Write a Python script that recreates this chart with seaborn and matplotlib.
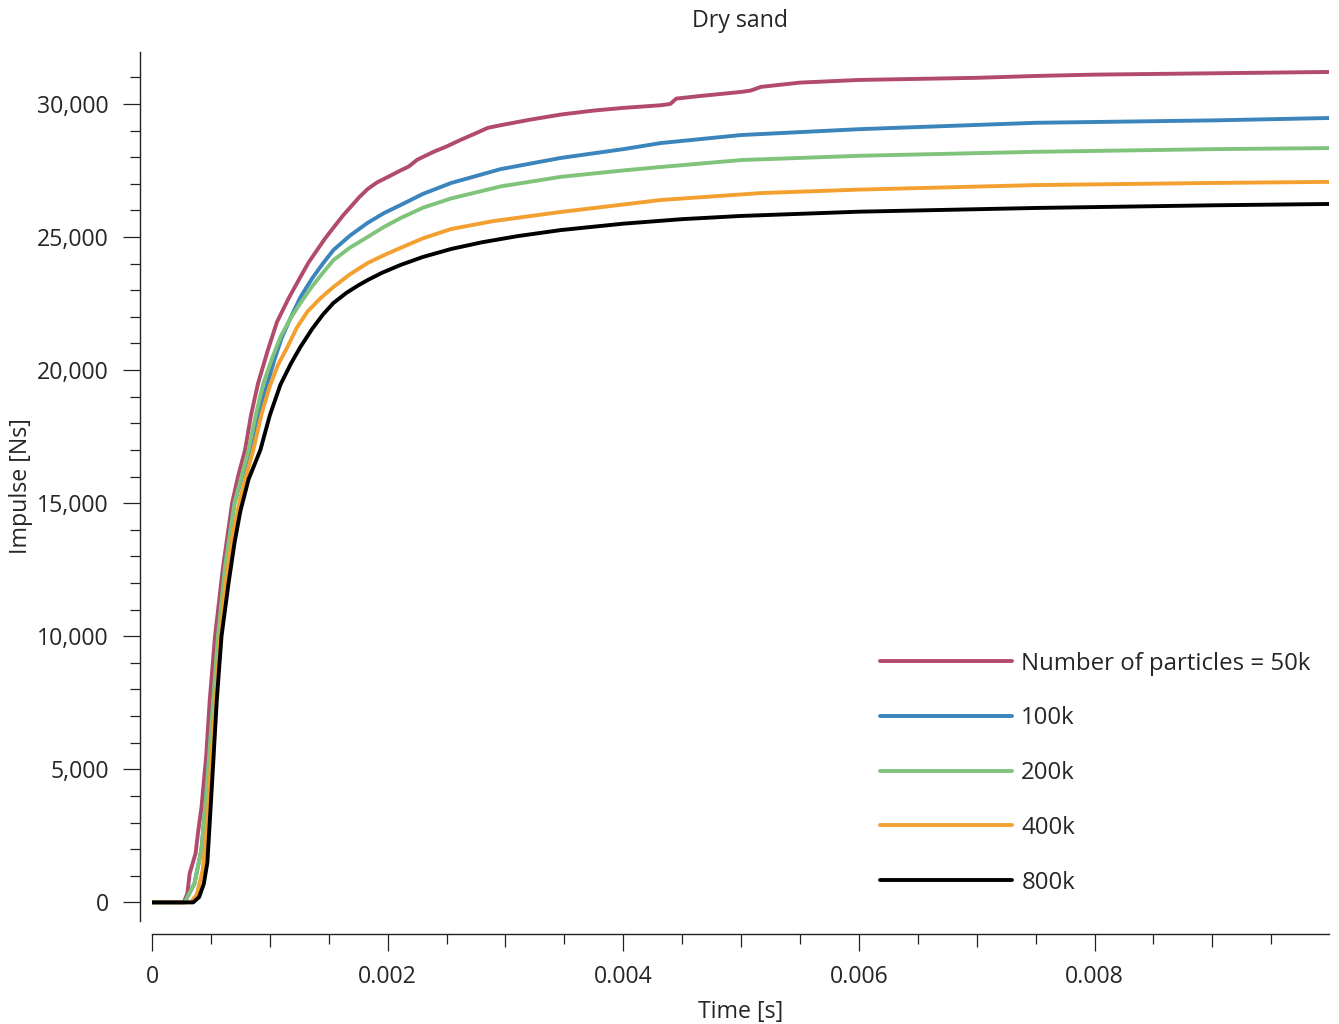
import numpy as np
import pandas as pd
import matplotlib
matplotlib.use("Agg")
import matplotlib.pyplot as plt
import seaborn as sns
from matplotlib.ticker import MultipleLocator, FuncFormatter

# ---------------- data (time in ms, impulse in Ns) ----------------
labels = ["Number of particles = 50k", "100k", "200k", "400k", "800k"]
colors = ["#b24a6b", "#3b84bc", "#80c37b", "#f4a030", "#000000"]

t_50k = [0, 0.27, 0.30, 0.32, 0.37, 0.39, 0.42, 0.46, 0.49, 0.535, 0.60, 0.68, 0.73, 0.79,
         0.84, 0.90, 0.98, 1.06, 1.16, 1.26, 1.33, 1.40, 1.47, 1.54, 1.62, 1.70, 1.76, 1.83,
         1.91, 2.00, 2.11, 2.18, 2.25, 2.32, 2.39, 2.50, 2.62, 2.75, 2.85, 2.96, 3.20, 3.47,
         3.75, 4.00, 4.32, 4.40, 4.45, 4.66, 5.00, 5.08, 5.17, 5.50, 6.00, 7.00, 7.50, 8.00,
         9.00, 9.99]
v_50k = [0, 0, 340, 1090, 1840, 2600, 3570, 5500, 7600, 10000, 12500, 15000, 16000, 17000,
         18300, 19500, 20700, 21800, 22700, 23500, 24050, 24500, 24950, 25350, 25800, 26200, 26500, 26800,
         27050, 27250, 27500, 27650, 27900, 28050, 28200, 28400, 28650, 28900, 29100, 29200, 29400, 29600,
         29750, 29850, 29950, 30000, 30200, 30300, 30450, 30500, 30640, 30800, 30900, 30980, 31050, 31100,
         31150, 31200]

t_100k = [0, 0.28, 0.30, 0.36, 0.42, 0.46, 0.52, 0.565, 0.62, 0.70, 0.83, 0.90, 0.98, 1.04,
          1.10, 1.18, 1.26, 1.36, 1.45, 1.54, 1.68, 1.83, 1.97, 2.11, 2.30, 2.54, 2.96, 3.47,
          4.00, 4.32, 5.00, 6.00, 7.50, 9.00, 9.99]
v_100k = [0, 0, 200, 700, 2000, 4000, 7600, 10000, 12600, 15000, 17000, 18300, 19500, 20400,
          21200, 22000, 22740, 23450, 24000, 24510, 25050, 25530, 25900, 26200, 26620, 27030, 27550, 27970,
          28300, 28530, 28830, 29050, 29290, 29380, 29470]

t_200k = [0, 0.28, 0.30, 0.36, 0.42, 0.46, 0.52, 0.56, 0.62, 0.70, 0.82, 0.88, 0.945, 1.02,
          1.09, 1.17, 1.26, 1.36, 1.45, 1.54, 1.68, 1.83, 1.97, 2.11, 2.30, 2.54, 2.96, 3.47,
          4.00, 4.32, 5.00, 6.00, 7.50, 9.00, 9.99]
v_200k = [0, 0, 200, 700, 2000, 4000, 7600, 10000, 12600, 15000, 17000, 18300, 19500, 20450,
          21240, 21900, 22520, 23150, 23650, 24130, 24600, 25000, 25380, 25710, 26100, 26450, 26900, 27260,
          27500, 27630, 27890, 28050, 28200, 28300, 28340]

t_400k = [0, 0.33, 0.38, 0.43, 0.47, 0.50, 0.54, 0.58, 0.62, 0.68, 0.75, 0.86, 0.93, 1.00,
          1.07, 1.15, 1.23, 1.32, 1.43, 1.54, 1.68, 1.83, 1.97, 2.11, 2.30, 2.54, 2.90, 3.47,
          4.00, 4.32, 5.17, 6.00, 7.50, 9.00, 9.99]
v_400k = [0, 0, 300, 1200, 3000, 5200, 7600, 10000, 11800, 13700, 15200, 17000, 18350, 19400,
          20200, 20870, 21600, 22200, 22700, 23120, 23600, 24020, 24320, 24590, 24950, 25300, 25600, 25940,
          26220, 26390, 26650, 26780, 26950, 27030, 27070]

t_800k = [0, 0.35, 0.40, 0.44, 0.47, 0.51, 0.55, 0.59, 0.65, 0.70, 0.75, 0.82, 0.92, 1.00,
          1.09, 1.18, 1.26, 1.36, 1.45, 1.54, 1.65, 1.75, 1.83, 1.95, 2.11, 2.30, 2.54, 2.80,
          3.10, 3.47, 4.00, 4.50, 5.00, 6.00, 7.50, 9.00, 9.99]
v_800k = [0, 0, 200, 700, 1500, 4500, 7600, 10000, 12000, 13500, 14700, 15900, 17000, 18300,
          19450, 20250, 20870, 21550, 22080, 22520, 22900, 23180, 23380, 23650, 23950, 24250, 24550, 24800,
          25030, 25260, 25500, 25670, 25790, 25950, 26090, 26190, 26240]

times = [t_50k, t_100k, t_200k, t_400k, t_800k]
values = [v_50k, v_100k, v_200k, v_400k, v_800k]

frames = []
for lab, t, v in zip(labels, times, values):
    frames.append(pd.DataFrame({"Time": np.array(t) / 1000.0, "Impulse": v, "series": lab}))
df = pd.concat(frames, ignore_index=True)

# ---------------- style ----------------
sns.set_theme(style="white")
plt.rcParams["font.family"] = ["Open Sans", "DejaVu Sans"]
text_color = "#262626"
plt.rcParams["text.color"] = text_color
plt.rcParams["axes.labelcolor"] = text_color
plt.rcParams["xtick.color"] = text_color
plt.rcParams["ytick.color"] = text_color

FS = 16.7

fig = plt.figure(figsize=(13.39, 10.24), dpi=100)
ax = fig.add_axes([152 / 1339, 1 - 921 / 1024, (1329 - 152) / 1339, (921 - 52) / 1024])

sns.lineplot(data=df, x="Time", y="Impulse", hue="series", hue_order=labels,
             palette=colors, estimator=None, sort=False, linewidth=2.8, ax=ax)

ax.set_xlim(0, 0.00999)
ax.set_ylim(-700, 31950)

for s in ["top", "right"]:
    ax.spines[s].set_visible(False)
ax.spines["left"].set_position(("outward", 8.6))
ax.spines["bottom"].set_position(("outward", 9.4))
for s in ["left", "bottom"]:
    ax.spines[s].set_color("#222222")
    ax.spines[s].set_linewidth(1.0)

ax.xaxis.set_major_locator(MultipleLocator(0.002))
ax.xaxis.set_minor_locator(MultipleLocator(0.0005))
ax.xaxis.set_major_formatter(FuncFormatter(lambda v, p: "0" if abs(v) < 1e-12 else f"{v:.3f}"))
ax.yaxis.set_major_locator(MultipleLocator(5000))
ax.yaxis.set_minor_locator(MultipleLocator(1000))
ax.yaxis.set_major_formatter(FuncFormatter(lambda v, p: f"{v:,.0f}"))

ax.tick_params(axis="both", which="major", length=12.5, width=0.9, labelsize=FS,
               color="#222222", direction="out", bottom=True, left=True)
ax.tick_params(axis="both", which="minor", length=7, width=0.9,
               color="#222222", direction="out", bottom=True, left=True)
ax.tick_params(axis="x", which="major", pad=10)
ax.tick_params(axis="y", which="major", pad=10)

ax.set_xlabel("Time [s]", fontsize=FS, labelpad=8)
ax.set_ylabel("Impulse [Ns]", fontsize=FS, labelpad=3)
ax.set_title("Dry sand", fontsize=FS, pad=18)

handles, labs = ax.get_legend_handles_labels()
leg = ax.legend(handles, labs, loc="upper left", bbox_to_anchor=(0.6185, 0.31),
                frameon=False, fontsize=17.3, handlelength=5.5, handletextpad=0.38,
                labelspacing=1.28, borderpad=0, borderaxespad=0)
for line in leg.get_lines():
    line.set_linewidth(2.8)

# medium-length ticks at odd thousandths
fig.canvas.draw()
locs = ax.xaxis.get_minorticklocs()
for loc, tick in zip(locs, ax.xaxis.get_minor_ticks(len(locs))):
    k = round(loc / 0.0005)
    if k % 2 == 0:
        tick.tick1line.set_markersize(9.6)

fig.savefig("out.png", dpi=100)
